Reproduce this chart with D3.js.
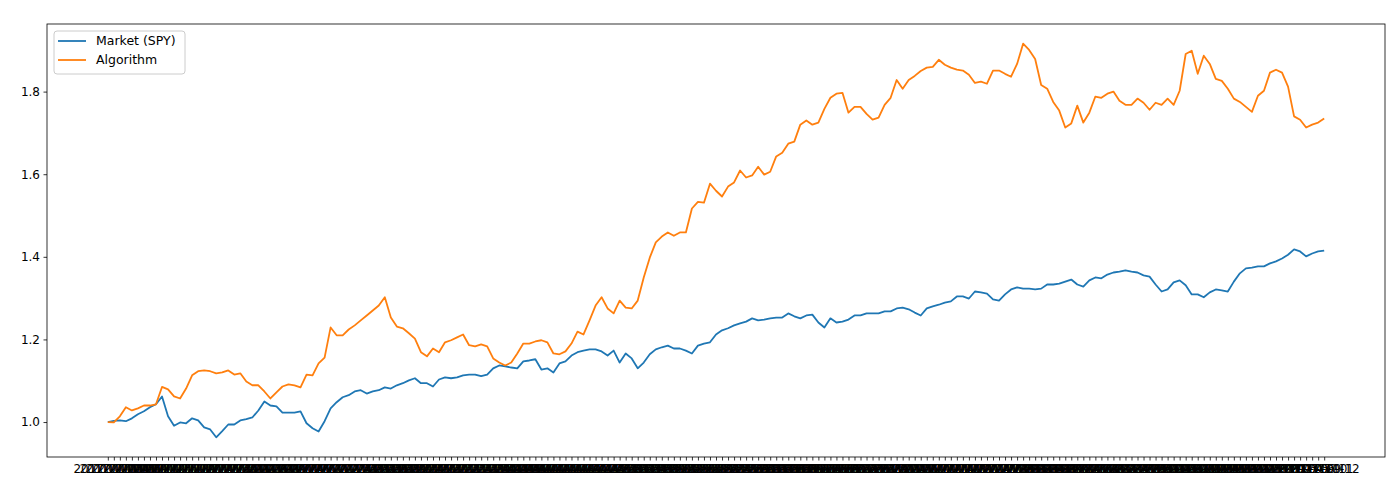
<!DOCTYPE html>
<html>
<head>
<meta charset="utf-8">
<script src="https://cdn.jsdelivr.net/npm/d3@7"></script>
<style>
  body { margin: 0; background: #fff; }
  text { font-family: "DejaVu Sans", sans-serif; }
</style>
</head>
<body>
<svg id="chart" width="1400" height="490"></svg>
<script>
var market = [
  1.000,1.003,1.004,1.002,1.009,1.019,1.026,1.036,1.043,1.062,
  1.014,0.991,0.999,0.997,1.009,1.004,0.987,0.982,0.963,0.978,
  0.994,0.994,1.004,1.007,1.011,1.028,1.050,1.040,1.038,1.023,
  1.023,1.023,1.026,0.997,0.985,0.977,1.002,1.033,1.048,1.060,
  1.065,1.074,1.077,1.069,1.074,1.077,1.084,1.081,1.089,1.094,
  1.101,1.106,1.094,1.094,1.086,1.103,1.108,1.106,1.108,1.113,
  1.115,1.115,1.111,1.115,1.130,1.137,1.135,1.132,1.130,1.147,
  1.149,1.152,1.127,1.130,1.120,1.142,1.147,1.161,1.169,1.173,
  1.176,1.176,1.171,1.161,1.173,1.144,1.166,1.154,1.130,1.144,
  1.164,1.176,1.181,1.185,1.178,1.178,1.173,1.166,1.185,1.190,
  1.193,1.212,1.222,1.227,1.234,1.239,1.243,1.251,1.246,1.248,
  1.251,1.253,1.253,1.263,1.256,1.251,1.258,1.260,1.241,1.229,
  1.251,1.241,1.243,1.248,1.258,1.258,1.263,1.263,1.263,1.268,
  1.268,1.275,1.277,1.273,1.265,1.258,1.275,1.280,1.284,1.289,
  1.292,1.304,1.304,1.299,1.316,1.314,1.311,1.297,1.294,1.309,
  1.321,1.326,1.323,1.323,1.321,1.323,1.333,1.333,1.335,1.340,
  1.345,1.333,1.328,1.343,1.350,1.348,1.357,1.362,1.364,1.367,
  1.364,1.362,1.355,1.352,1.333,1.316,1.321,1.338,1.343,1.331,
  1.309,1.309,1.302,1.314,1.321,1.319,1.316,1.340,1.360,1.372,
  1.374,1.377,1.377,1.384,1.389,1.396,1.405,1.418,1.413,1.401,
  1.408,1.413,1.415
];

var algorithm = [
  1.000,0.999,1.014,1.036,1.028,1.033,1.040,1.040,1.043,1.085,
  1.079,1.062,1.057,1.081,1.113,1.123,1.125,1.123,1.118,1.120,
  1.125,1.115,1.118,1.098,1.089,1.089,1.074,1.057,1.072,1.086,
  1.091,1.089,1.084,1.115,1.113,1.142,1.156,1.229,1.210,1.210,
  1.224,1.234,1.246,1.258,1.270,1.282,1.302,1.253,1.231,1.227,
  1.215,1.202,1.169,1.159,1.178,1.169,1.193,1.198,1.205,1.212,
  1.186,1.183,1.188,1.183,1.154,1.144,1.137,1.144,1.166,1.190,
  1.190,1.195,1.198,1.193,1.166,1.164,1.171,1.190,1.219,1.212,
  1.246,1.282,1.302,1.275,1.263,1.294,1.277,1.275,1.294,1.350,
  1.398,1.435,1.449,1.459,1.451,1.459,1.459,1.517,1.533,1.531,
  1.577,1.560,1.546,1.570,1.580,1.609,1.592,1.597,1.618,1.599,
  1.606,1.643,1.652,1.674,1.679,1.720,1.730,1.720,1.725,1.758,
  1.785,1.795,1.797,1.749,1.763,1.763,1.746,1.732,1.737,1.768,
  1.785,1.828,1.807,1.828,1.838,1.850,1.858,1.860,1.877,1.865,
  1.858,1.853,1.851,1.841,1.821,1.824,1.819,1.851,1.851,1.843,
  1.836,1.867,1.916,1.901,1.879,1.816,1.807,1.775,1.754,1.713,
  1.723,1.766,1.725,1.749,1.788,1.785,1.795,1.800,1.778,1.768,
  1.768,1.783,1.773,1.756,1.773,1.768,1.783,1.768,1.802,1.891,
  1.899,1.843,1.887,1.867,1.831,1.826,1.807,1.783,1.775,1.763,
  1.751,1.790,1.802,1.846,1.853,1.846,1.812,1.740,1.732,1.713,
  1.720,1.725,1.735
];

var seriesNames = ["Market (SPY)", "Algorithm"];
var seriesColors = ["#1f77b4", "#ff7f0e"];
var yTicks = [1.0, 1.2, 1.4, 1.6, 1.8];

// trading days used as the category labels of the x axis
var dates = d3.timeDay.range(new Date(2017, 0, 3), new Date(2018, 0, 1))
  .filter(function(d) { return d.getDay() % 6 !== 0; })
  .slice(0, market.length)
  .map(d3.timeFormat("%Y-%m-%d"));

(function() {
  var svg = d3.select("#chart");
  var mLeft = 47, mRight = 1385, mTop = 24, mBottom = 457;
  var n = market.length;

  var x = d3.scaleLinear()
    .domain([-0.05 * (n - 1), 1.05 * (n - 1)])
    .range([mLeft, mRight]);

  var all = market.concat(algorithm);
  var lo = d3.min(all), hi = d3.max(all);
  var pad = (hi - lo) * 0.05;
  var y = d3.scaleLinear()
    .domain([lo - pad, hi + pad])
    .range([mBottom, mTop]);

  svg.append("rect")
    .attr("width", 1400).attr("height", 490)
    .attr("fill", "#fff");

  var yAxis = svg.append("g")
    .attr("transform", "translate(" + mLeft + ",0)")
    .call(d3.axisLeft(y).tickValues(yTicks).tickSize(3.5).tickPadding(3.5)
      .tickFormat(d3.format(".1f")));

  var xAxis = svg.append("g")
    .attr("transform", "translate(0," + mBottom + ")")
    .call(d3.axisBottom(x).tickValues(d3.range(n)).tickSize(3.5).tickPadding(3.5)
      .tickFormat(function(i) { return dates[i]; }));

  [yAxis, xAxis].forEach(function(g) {
    g.select(".domain").remove();
    g.selectAll(".tick line").attr("stroke", "#000").attr("stroke-width", 0.8);
    g.selectAll(".tick text").attr("fill", "#000").style("font-size", "12px");
  });

  var line = d3.line()
    .x(function(d, i) { return x(i); })
    .y(function(d) { return y(d); });

  [market, algorithm].forEach(function(values, k) {
    svg.append("path")
      .datum(values)
      .attr("fill", "none")
      .attr("stroke", seriesColors[k])
      .attr("stroke-width", 1.8)
      .attr("stroke-linejoin", "round")
      .attr("d", line);
  });

  // frame (spines)
  svg.append("rect")
    .attr("x", mLeft).attr("y", mTop)
    .attr("width", mRight - mLeft).attr("height", mBottom - mTop)
    .attr("fill", "none")
    .attr("stroke", "#000")
    .attr("stroke-width", 0.8);

  // legend
  var legend = svg.append("g").attr("transform", "translate(54,31)");
  legend.append("rect")
    .attr("width", 131).attr("height", 43)
    .attr("rx", 3)
    .attr("fill", "#fff").attr("fill-opacity", 0.8)
    .attr("stroke", "#ccc");
  seriesNames.forEach(function(name, k) {
    var row = legend.append("g").attr("transform", "translate(0," + (10 + k * 19) + ")");
    row.append("line")
      .attr("x1", 4).attr("x2", 32)
      .attr("stroke", seriesColors[k]).attr("stroke-width", 1.8);
    row.append("text")
      .attr("x", 42).attr("dy", "0.35em")
      .style("font-size", "12.5px")
      .text(name);
  });
})();
</script>
</body>
</html>
